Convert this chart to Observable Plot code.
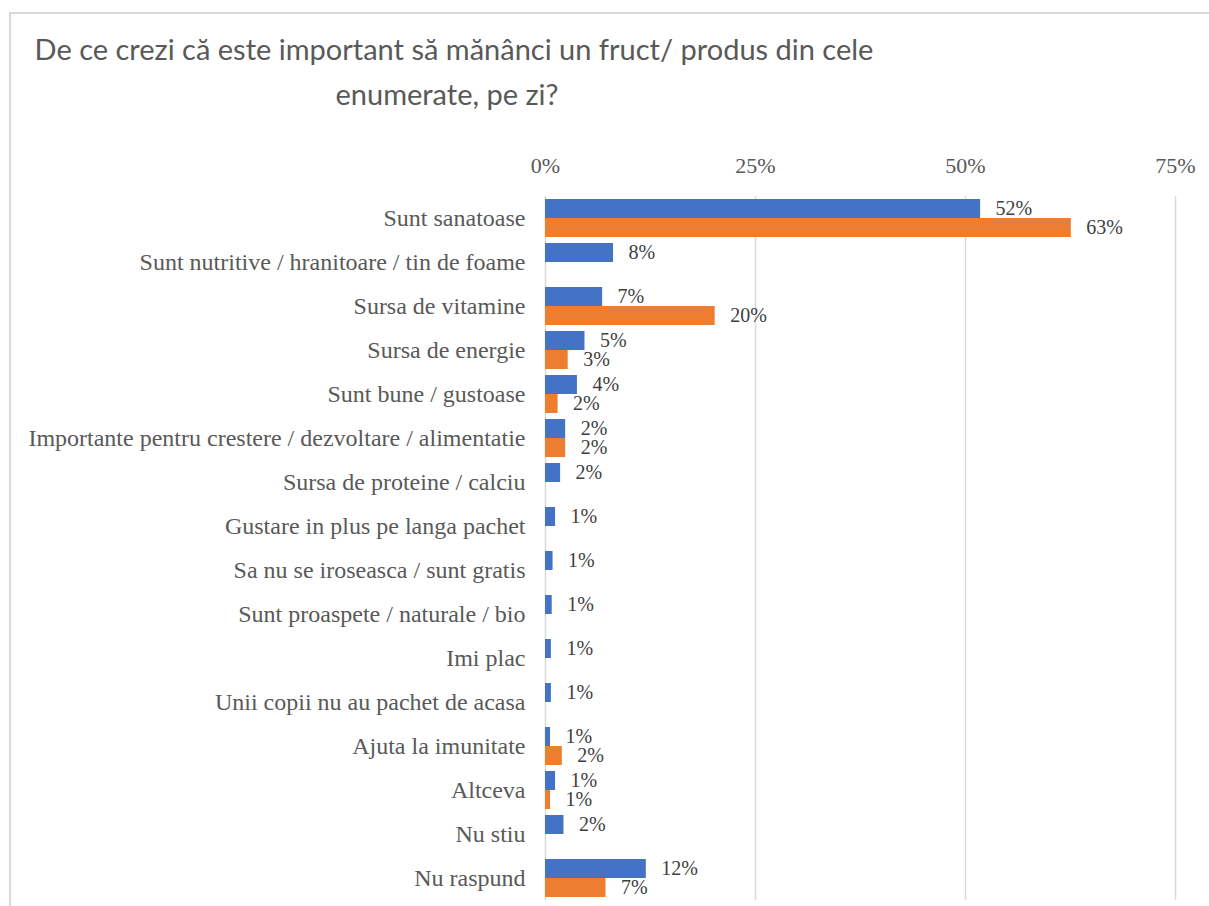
<!DOCTYPE html>
<html><head><meta charset="utf-8">
<script src="https://cdn.jsdelivr.net/npm/d3@7"></script>
<script src="https://cdn.jsdelivr.net/npm/@observablehq/plot@0.6"></script>
<style>
body{margin:0;background:#fff;width:1209px;height:906px;overflow:hidden;position:relative;}
#bl{position:absolute;left:9px;top:12px;width:2px;height:894px;background:#d9d9d9;}
#bt{position:absolute;left:9px;top:12px;width:1200px;height:2px;background:#d9d9d9;}
#title{position:relative;width:1209px;height:140px;font-family:Lato,'Open Sans',sans-serif;color:#595959;font-size:29px;line-height:29px;}
#title .l{position:absolute;white-space:nowrap;text-align:center;}
#chart{position:relative;height:766px;}
#chart svg{display:block;}
#chart svg [aria-label^="x-axis"] text{font-size:22px;}
</style></head>
<body>
<div id="bl"></div><div id="bt"></div>
<div id="title">
  <div class="l" style="left:0;width:908px;top:34px;">De ce crezi că este important să mănânci un fruct/ produs din cele</div>
  <div class="l" style="left:0;width:894px;top:79px;">enumerate, pe zi?</div>
</div>
<div id="chart"></div>
<script>
const categories = [
  "Sunt sanatoase",
  "Sunt nutritive / hranitoare / tin de foame",
  "Sursa de vitamine",
  "Sursa de energie",
  "Sunt bune / gustoase",
  "Importante pentru crestere / dezvoltare / alimentatie",
  "Sursa de proteine / calciu",
  "Gustare in plus pe langa pachet",
  "Sa nu se iroseasca / sunt gratis",
  "Sunt proaspete / naturale / bio",
  "Imi plac",
  "Unii copii nu au pachet de acasa",
  "Ajuta la imunitate",
  "Altceva",
  "Nu stiu",
  "Nu raspund"
];
const blueValues   = [51.8, 8.1, 6.8, 4.7, 3.8, 2.4, 1.8, 1.2, 0.9, 0.8, 0.7, 0.7, 0.6, 1.2, 2.2, 12.0];
const orangeValues = [62.6, null, 20.2, 2.7, 1.5, 2.4, null, null, null, null, null, null, 2.0, 0.6, null, 7.2];
const blueLabels   = ["52%","8%","7%","5%","4%","2%","2%","1%","1%","1%","1%","1%","1%","1%","2%","12%"];
const orangeLabels = ["63%",null,"20%","3%","2%","2%",null,null,null,null,null,null,"2%","1%",null,"7%"];
const seriesKeys = ["A","B"];
const xTicks = [0, 25, 50, 75];

const rows = categories.flatMap((c, i) => [
  {category: c, series: "A", value: blueValues[i], label: blueLabels[i]},
  {category: c, series: "B", value: orangeValues[i], label: orangeLabels[i]}
]).filter(d => d.value != null);

const chart = Plot.plot({
  width: 1209, height: 766,
  marginTop: 53, marginBottom: 4, marginLeft: 545, marginRight: 34,
  style: {fontFamily: "'Liberation Serif', 'Times New Roman', serif", fontSize: "24px", color: "#595959", background: "transparent", overflow: "visible"},
  x: {domain: [0, 75], axis: "top", ticks: xTicks, tickFormat: d => d + "%", tickSize: 0, tickPadding: 24, label: null},
  y: {domain: seriesKeys, axis: null, paddingInner: 0, paddingOuter: 0.15},
  fy: {domain: categories, padding: 0, axis: "left", tickSize: 0, tickPadding: 20, label: null},
  color: {domain: seriesKeys, range: ["#4472C4", "#ED7D31"]},
  facet: {data: rows, y: "category"},
  marks: [
    Plot.ruleX(xTicks, {stroke: "#d9d9d9", strokeWidth: 1.5}),
    Plot.barX(rows, {x: "value", y: "series", fill: "series"}),
    Plot.text(rows, {x: "value", y: "series", text: "label", dx: 15, textAnchor: "start", fontSize: 20, fill: "#404040"})
  ]
});
document.getElementById("chart").appendChild(chart);
</script>
</body></html>
